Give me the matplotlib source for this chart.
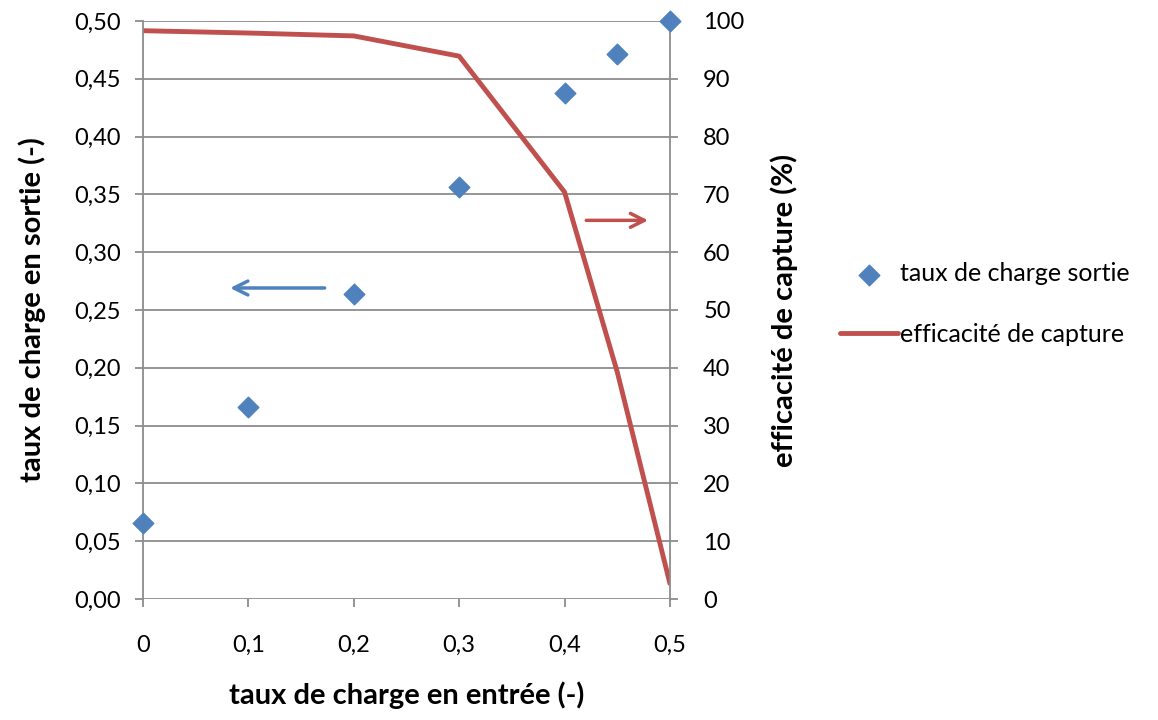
import matplotlib
matplotlib.use('Agg')
import matplotlib.pyplot as plt
from matplotlib.ticker import FuncFormatter, MultipleLocator

plt.rcParams['font.family'] = ['Lato', 'DejaVu Sans']

# data
taux_entree = [0, 0.1, 0.2, 0.3, 0.4, 0.45, 0.5]
taux_sortie = [0.066, 0.166, 0.264, 0.356, 0.438, 0.471, 0.500]
efficacite = [98.3, 97.9, 97.4, 93.9, 70.4, 39.3, 2.7]
x_ticks = [0, 0.1, 0.2, 0.3, 0.4, 0.5]

blue = '#4f81bd'
red = '#c0504d'
grey = '#8c8c8c'

fig = plt.figure(figsize=(11.58, 7.2), dpi=100)
ax = fig.add_axes([0.1235, 0.168, 0.455, 0.803])
ax2 = ax.twinx()

# scatter on the left axis
sc = ax.scatter(taux_entree, taux_sortie, marker='D', s=110, color=blue,
                zorder=3, label='taux de charge sortie', clip_on=False)
# line on the right axis
ln, = ax2.plot(taux_entree, efficacite, color=red, linewidth=3.5,
               label='efficacité de capture', solid_capstyle='round')

# keep the scatter above the line axes so the diamonds are not hidden
ax.set_zorder(ax2.get_zorder() + 1)
ax.patch.set_visible(False)

ax.set_xlim(0, 0.5)
ax.set_ylim(0, 0.5)
ax2.set_ylim(0, 100)
ax.set_xticks(x_ticks)
ax.yaxis.set_major_locator(MultipleLocator(0.05))
ax2.yaxis.set_major_locator(MultipleLocator(10))

ax.yaxis.set_major_formatter(FuncFormatter(lambda v, p: f'{v:.2f}'.replace('.', ',')))
ax.xaxis.set_major_formatter(FuncFormatter(lambda v, p: '0' if v == 0 else f'{v:.1f}'.replace('.', ',')))
ax2.yaxis.set_major_formatter(FuncFormatter(lambda v, p: f'{v:.0f}'))

ax2.grid(axis='y', color=grey, linewidth=1.3)

for a in (ax, ax2):
    a.spines['top'].set_visible(False)
    a.spines['bottom'].set_visible(False)
    for s in ('left', 'right'):
        a.spines[s].set_color(grey)
        a.spines[s].set_linewidth(1.3)
    a.tick_params(colors=grey, labelcolor='black', labelsize=17, width=1.3, length=6)
ax.spines['right'].set_visible(False)
ax2.spines['left'].set_visible(False)
ax.tick_params(axis='x', pad=20)
ax.tick_params(axis='y', pad=10)
ax2.tick_params(axis='y', pad=18)

ax.set_xlabel('taux de charge en entrée (-)', fontsize=21, fontweight='bold', labelpad=18)
ax.set_ylabel('taux de charge en sortie (-)', fontsize=21, fontweight='bold', labelpad=20)
ax2.set_ylabel('efficacité de capture (%)', fontsize=21, fontweight='bold', labelpad=19)

# arrows showing which axis each series belongs to
ax.annotate('', xy=(0.08, 0.269), xytext=(0.175, 0.269),
            arrowprops=dict(arrowstyle='->', color=blue, lw=2.5, mutation_scale=25))
ax2.annotate('', xy=(0.482, 65.5), xytext=(0.418, 65.5),
             arrowprops=dict(arrowstyle='->', color=red, lw=2.5, mutation_scale=25))

fig.legend(handles=[sc, ln], loc='center left', bbox_to_anchor=(0.706, 0.578),
           frameon=False, fontsize=18, labelspacing=1.5, handletextpad=0.1,
           handlelength=2.3, markerscale=1.0)

fig.savefig('out.png', dpi=100)
